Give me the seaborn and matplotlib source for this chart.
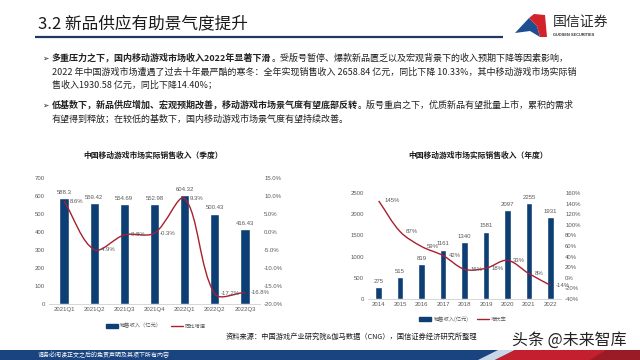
import matplotlib
matplotlib.use("Agg")
import matplotlib.pyplot as plt
import seaborn as sns
import numpy as np
import pandas as pd
from matplotlib.path import Path
from matplotlib.patches import PathPatch, Patch, Polygon, Rectangle
from matplotlib.lines import Line2D
from matplotlib.ticker import FuncFormatter

# quarterly data
quarters = ["2021Q1", "2021Q2", "2021Q3", "2021Q4", "2022Q1", "2022Q2", "2022Q3"]
q_revenue = [588.3, 559.42, 554.69, 552.98, 604.32, 500.43, 416.43]
q_yoy = [8.6, -4.9, -0.8, -0.3, 9.3, -17.2, -16.8]

# yearly data
years = ["2014", "2015", "2016", "2017", "2018", "2019", "2020", "2021", "2022"]
y_revenue = [275, 515, 819, 1161, 1340, 1581, 2097, 2255, 1931]
y_growth = [145, 87, 59, 42, 16, 18, 33, 8, -14]

BLUE = "#0D3F74"
RED = "#A8202F"
GRAY = "#595959"

sns.set_style("white")
plt.rcParams["font.family"] = ["Noto Sans CJK SC", "DejaVu Sans"]
NUM = ["Liberation Sans", "Noto Sans CJK SC"]


def smooth_path(ax, xs, ys):
    # Excel-like smoothed line: chord-weighted Bezier built in screen space
    pts = ax.transData.transform(np.column_stack([xs, ys]))
    n = len(pts)
    f = 1 / 6
    verts = [pts[0]]
    codes = [Path.MOVETO]
    for i in range(n - 1):
        p0, p1 = pts[max(i - 1, 0)], pts[i]
        p2, p3 = pts[i + 1], pts[min(i + 2, n - 1)]
        d01 = np.hypot(*(p1 - p0))
        d12 = np.hypot(*(p2 - p1))
        d23 = np.hypot(*(p3 - p2))
        c1 = p1 + (p2 - p0) * f * 2 * d12 / (d01 + d12)
        c2 = p2 - (p3 - p1) * f * 2 * d12 / (d12 + d23)
        verts += [c1, c2, p2]
        codes += [Path.CURVE4] * 3
    inv = ax.transData.inverted()
    return Path(inv.transform(np.array(verts)), codes)


def combo_chart(ax, cats, bars, line, ylim_l, yticks_l, ylim_r, yticks_r, rfmt, bar_fmt):
    df = pd.DataFrame({"cat": cats, "val": bars})
    sns.barplot(data=df, x="cat", y="val", color=BLUE, width=0.31, saturation=1, ax=ax)
    ax.set_ylim(*ylim_l)
    ax.set_yticks(yticks_l)
    ax.set_xlim(-0.5, len(cats) - 0.5)
    ax.set_xlabel("")
    ax.set_ylabel("")
    for i, v in enumerate(bars):
        ax.annotate(bar_fmt(v), (i, v), xytext=(0, 2.5), textcoords="offset points",
                    ha="center", va="bottom", fontsize=4.3, color=GRAY, family=NUM)
    ax2 = ax.twinx()
    ax2.set_ylim(*ylim_r)
    ax2.set_yticks(yticks_r)
    ax2.yaxis.set_major_formatter(FuncFormatter(rfmt))
    xs = np.arange(len(cats))
    ax2.add_patch(PathPatch(smooth_path(ax2, xs, line), fill=False, edgecolor=RED, lw=1.0))
    for i, v in enumerate(line):
        ax2.annotate(f"{v:g}%", (i, v), xytext=(4, 0), textcoords="offset points",
                     ha="left", va="center", fontsize=4.3, color=GRAY, family=NUM)
    for a in (ax, ax2):
        for s in a.spines.values():
            s.set_visible(False)
        a.tick_params(length=0, labelsize=4.3, colors=GRAY, pad=3)
        for lab in a.get_xticklabels() + a.get_yticklabels():
            lab.set_family(NUM)
        a.grid(False)
    ax.spines["bottom"].set_visible(True)
    ax.spines["bottom"].set_color("#D0D0D0")
    ax.spines["bottom"].set_linewidth(0.6)
    ax.tick_params(axis="x", pad=2.5)
    return ax2


fig = plt.figure(figsize=(6.4, 3.6), dpi=100)

# page background layer in pixel coordinates
bg = fig.add_axes([0, 0, 1, 1])
bg.set_xlim(0, 640)
bg.set_ylim(360, 0)
bg.axis("off")

bg.text(38, 25, "3.2 新品供应有助景气度提升", fontsize=12, va="center", color="#1A1A1A")
bg.plot([35, 503], [36.5, 36.5], color="#1F3A5F", lw=1.6, solid_capstyle="butt")

# logo
bg.add_patch(Polygon([(515, 33), (529, 18), (537, 26), (540, 37), (530, 31)], color="#1D4F91", lw=0))
bg.add_patch(Polygon([(529, 18), (534, 14), (545, 15), (547, 37), (540, 37), (537, 26)], color="#D2232A", lw=0))
bg.text(553, 22, "国信证券", fontsize=10, va="center", color="#2A2A2A")
bg.text(553, 34.5, "GUOSEN SECURITIES", fontsize=2.8, va="center", color="#333333", weight="bold", family=NUM)

# bullet text
TXT = dict(fontsize=6.5, va="center", color="#222222")
lines = [
    (58, "多重压力之下，国内移动游戏市场收入2022年显著下滑", "。受版号暂停、爆款新品匮乏以及宏观背景下的收入预期下降等因素影响，"),
    (72, None, "2022 年中国游戏市场遭遇了过去十年最严酷的寒冬：全年实现销售收入 2658.84 亿元，同比下降 10.33%，其中移动游戏市场实际销"),
    (85, None, "售收入1930.58 亿元，同比下降14.40%；"),
    (105, "低基数下，新品供应增加、宏观预期改善，移动游戏市场景气度有望底部反转", "。版号重启之下，优质新品有望批量上市，累积的需求"),
    (119, None, "有望得到释放；在较低的基数下，国内移动游戏市场景气度有望持续改善。"),
]
for y, bold, rest in lines:
    if bold:
        bg.text(42, y, "➢", fontsize=5.5, va="center", color="#222222", family=["DejaVu Sans"])
        t = bg.text(52, y, bold, fontweight="bold", **TXT)
        bg.annotate(rest, xy=(1, 0.5), xycoords=t, ha="left", **TXT)
    else:
        bg.text(52, y, rest, **TXT)

# chart titles
bg.text(153, 155, "中国移动游戏市场实际销售收入（季度）", fontsize=5.6, weight="bold", ha="center", va="center", color="#1A1A1A")
bg.text(478, 155, "中国移动游戏市场实际销售收入（年度）", fontsize=5.6, weight="bold", ha="center", va="center", color="#1A1A1A")

# left chart: quarterly
axL = fig.add_axes([49 / 640, 56 / 360, 211 / 640, 126 / 360])
combo_chart(axL, quarters, q_revenue, q_yoy, (0, 700), range(0, 701, 100),
            (-20, 15), np.arange(-20, 15.1, 5), lambda v, p: f"{v:.1f}%", lambda v: f"{v:g}")

# right chart: yearly
axR = fig.add_axes([368 / 640, 61 / 360, 193 / 640, 106 / 360])
combo_chart(axR, years, y_revenue, y_growth, (0, 2500), range(0, 2501, 500),
            (-40, 160), range(-40, 161, 20), lambda v, p: f"{v:.0f}%", lambda v: f"{v:d}")

# legends
legkw = dict(frameon=False, ncol=2, fontsize=3.8, handlelength=2.3, handleheight=0.7,
             columnspacing=1.6, handletextpad=0.4, loc="center")
fig.legend([Patch(color=BLUE), Line2D([], [], color=RED, lw=1)], ["销售收入（亿元）", "同比增速"],
           bbox_to_anchor=(156 / 640, 1 - 326 / 360), labelcolor=GRAY, **legkw)
fig.legend([Patch(color=BLUE), Line2D([], [], color=RED, lw=1)], ["销售收入(亿元)", "增长率"],
           bbox_to_anchor=(463 / 640, 1 - 319 / 360), labelcolor=GRAY, **legkw)

bg.text(226, 337, "资料来源：中国游戏产业研究院&伽马数据（CNG），国信证券经济研究所整理", fontsize=5.2,
        va="center", color="#1A1A1A")

# footer band
bg.add_patch(Rectangle((0, 350), 640, 10, color="#1A4480", lw=0))
bg.add_patch(Polygon([(478, 360), (498, 350), (515, 350), (495, 360)], color="#C9D6E6", lw=0))
bg.add_patch(Polygon([(495, 360), (515, 350), (640, 350), (640, 360)], color="#C41F2E", lw=0))
bg.add_patch(Polygon([(590, 360), (606, 350), (640, 350), (640, 360)], color="#9A1B26", lw=0))
bg.text(38, 355, "请务必阅读正文之后的免责声明及其项下所有内容", fontsize=4.3, va="center", color="white")

bg.text(512, 340, "头条 @未来智库", fontsize=11.5, va="center", color="#222222", weight="light")

fig.savefig("out.png", dpi=100)
